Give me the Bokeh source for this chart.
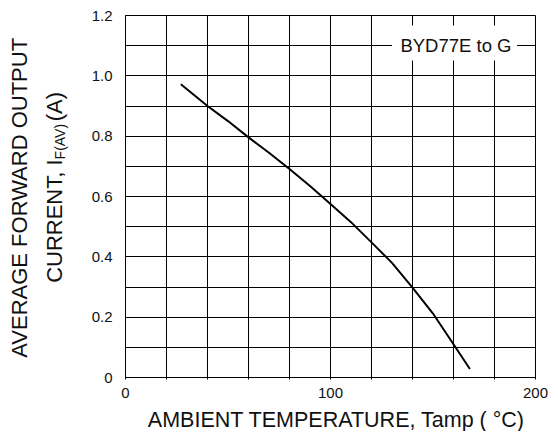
from bokeh.plotting import figure
from bokeh.models import Range1d, FixedTicker, Label
from bokeh.core.properties import value
from bokeh.layouts import row, column
from bokeh.embed import file_html
from bokeh.resources import INLINE
import math

# ---- data ----
temp_c = [27, 40, 50, 60, 70, 80, 90, 100, 110, 120, 130, 140, 150, 160, 168]
current_a = [0.972, 0.900, 0.850, 0.796, 0.745, 0.691, 0.635, 0.575, 0.515, 0.448, 0.380, 0.298, 0.212, 0.110, 0.028]

x_ticks = [0, 100, 200]
x_minor = [20, 40, 60, 80, 120, 140, 160, 180]
x_grid = [0, 20, 40, 60, 80, 100, 120, 140, 160, 180, 200]
y_ticks = [0, 0.2, 0.4, 0.6, 0.8, 1.0, 1.2]
y_tick_labels = ["0", "0.2", "0.4", "0.6", "0.8", "1.0", "1.2"]
y_grid = [0, 0.1, 0.2, 0.3, 0.4, 0.5, 0.6, 0.7, 0.8, 0.9, 1.0, 1.1, 1.2]
series_name = "BYD77E to G"
x_title = "AMBIENT TEMPERATURE, Tamp ( \u00b0C)"
y_title_1 = "AVERAGE FORWARD OUTPUT"
y_title_2 = ["CURRENT, I", "F(AV)", "(A)"]

FONT = "Liberation Sans"
TXT = "#111111"

TOTAL_W = 550
LEFT_W = 70
ROW_H = 405
BOTTOM_H = 26


def blank(width, height):
    f = figure(width=width, height=height, output_backend="svg", toolbar_location=None,
               x_range=Range1d(0, width), y_range=Range1d(0, height),
               x_axis_location=None, y_axis_location=None,
               min_border=0, min_border_left=0, min_border_right=0,
               min_border_top=0, min_border_bottom=0)
    f.grid.visible = False
    f.outline_line_color = None
    f.background_fill_color = "white"
    f.border_fill_color = "white"
    return f


# ---- main chart ----
p = figure(width=TOTAL_W - LEFT_W, height=ROW_H, output_backend="svg", toolbar_location=None,
           x_range=Range1d(0, 200), y_range=Range1d(0, 1.2),
           min_border_left=125 - LEFT_W, min_border_right=15, min_border_top=15,
           min_border_bottom=ROW_H - 377)
p.background_fill_color = "white"
p.border_fill_color = "white"
p.outline_line_color = "black"
p.outline_line_width = 1
p.outline_line_alpha = 1

p.xgrid.ticker = FixedTicker(ticks=x_grid)
p.ygrid.ticker = FixedTicker(ticks=y_grid)
for g in (p.xgrid, p.ygrid):
    g.grid_line_color = "black"
    g.grid_line_alpha = 1
    g.grid_line_width = 1

xa = p.xaxis[0]
xa.ticker = FixedTicker(ticks=x_ticks, minor_ticks=x_minor)
xa.axis_line_color = "black"
xa.major_tick_line_color = "black"
xa.minor_tick_line_color = "black"
xa.major_tick_in = 0
xa.major_tick_out = 2
xa.minor_tick_in = 0
xa.minor_tick_out = 2
xa.major_label_standoff = 8
xa.major_label_text_font = FONT
xa.major_label_text_font_size = "15px"
xa.major_label_text_color = TXT

ya = p.yaxis[0]
ya.ticker = FixedTicker(ticks=y_ticks, minor_ticks=[])
ya.major_label_overrides = {t: l for t, l in zip(y_ticks, y_tick_labels)}
ya.axis_line_color = "black"
ya.major_tick_in = 0
ya.major_tick_out = 0
ya.minor_tick_line_color = None
ya.major_label_standoff = 13
ya.major_label_text_font = FONT
ya.major_label_text_font_size = "15px"
ya.major_label_text_color = TXT

p.line(temp_c, current_a, line_color="black", line_width=2)

# series label with white box
p.quad(left=130, right=191, bottom=1.051, top=1.167, fill_color="white", line_color=None)
p.add_layout(Label(x=161.2, y=1.1, text=series_name, text_align="center", text_baseline="middle",
                   text_font=FONT, text_font_size="18.5px", text_color=TXT))

# ---- y-axis title panel (panel pixels, y measured from bottom) ----
ang = math.pi / 2
J = 161.0  # where the subscript begins (pixels from top)
left = blank(LEFT_W, ROW_H)
left.text(x=[19.4], y=[ROW_H - 204], text=[y_title_1], angle=ang,
          text_align="center", text_baseline="middle",
          text_font=value(FONT), text_font_size="22px", text_color=TXT)
left.text(x=[54.4], y=[ROW_H - J], text=[y_title_2[0]], angle=ang,
          text_align="right", text_baseline="middle",
          text_font=value(FONT), text_font_size="22px", text_color=TXT)
left.text(x=[59.7], y=[ROW_H - J], text=[y_title_2[1]], angle=ang,
          text_align="left", text_baseline="middle",
          text_font=value(FONT), text_font_size="14px", text_color=TXT)
left.text(x=[54.4], y=[ROW_H - (J - 36.6 - 6.1)], text=[y_title_2[2]], angle=ang,
          text_align="left", text_baseline="middle",
          text_font=value(FONT), text_font_size="22px", text_color=TXT)

# ---- x-axis title panel ----
bottom = blank(TOTAL_W, BOTTOM_H)
bottom.add_layout(Label(x=336, y=BOTTOM_H - 14, text=x_title,
                        text_align="center", text_baseline="middle",
                        text_font=FONT, text_font_size="21.5px", text_color=TXT))

layout = column(row(left, p, spacing=0), bottom, spacing=0)

open("out.html", "w").write(file_html(layout, INLINE))
